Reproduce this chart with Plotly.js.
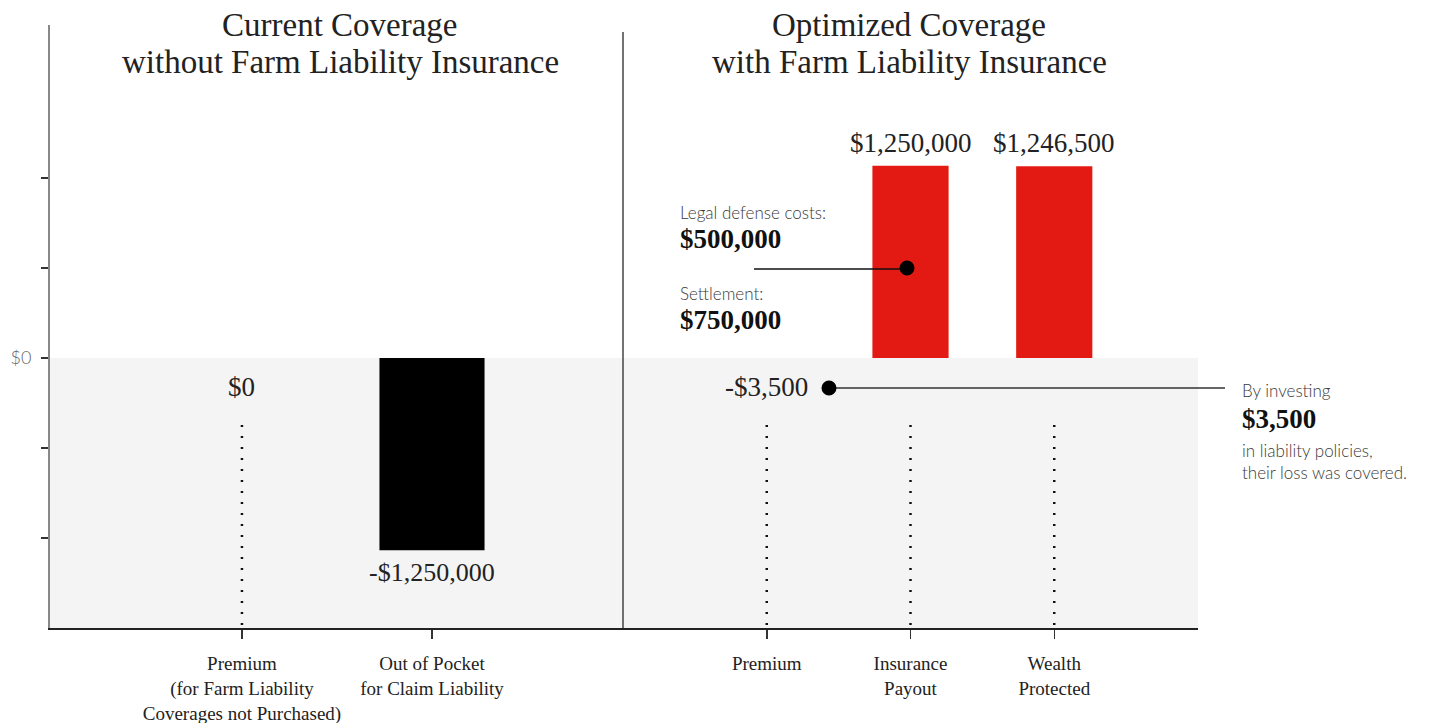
<!DOCTYPE html>
<html><head><meta charset="utf-8">
<script src="https://cdn.plot.ly/plotly-3.0.1.min.js"></script>
<style>html,body{margin:0;padding:0;background:#fff}#chart{width:1431px;height:723px}</style>
</head><body><div id="chart"></div>
<script>
// ---- data ----
const leftCategories = ['Premium<br>(for Farm Liability<br>Coverages not Purchased)', 'Out of Pocket<br>for Claim Liability'];
const leftValues = [0, -1250000];
const leftLabels = ['$0', '-$1,250,000'];
const rightCategories = ['Premium', 'Insurance<br>Payout', 'Wealth<br>Protected'];
const rightValues = [-3500, 1250000, 1246500];
const rightLabels = ['-$3,500', '$1,250,000', '$1,246,500'];
const panelTitles = [['Current Coverage', 'without Farm Liability Insurance'], ['Optimized Coverage', 'with Farm Liability Insurance']];
const payoutBreakdownLabels = ['Legal defense costs:', 'Settlement:'];
const payoutBreakdownValues = ['$500,000', '$750,000'];
const premiumNote = ['By investing', '$3,500', 'in liability policies,<br>their loss was covered.'];
const yTickLabels = ['', '', '$0', '', ''];

// ---- layout helpers ----
const W = 1431, H = 723;
const M = {l: 50, r: 233, t: 25, b: 95};
const PW = W - M.l - M.r, PH = H - M.t - M.b;
const px = x => (x - M.l) / PW;
const py = y => (H - M.b - y) / PH;
const T = 585000;
const SERIF = 'Liberation Serif, Times New Roman, serif';
const SANS = 'Lato, Open Sans, sans-serif';
const RED = '#e31a13';
const tiny = v => Math.abs(v) < 100000;
const colorFor = v => tiny(v) ? 'rgba(0,0,0,0)' : (v < 0 ? '#000000' : RED);

const traces = [
  {type: 'bar', x: leftCategories, y: leftValues, xaxis: 'x', yaxis: 'y', width: 0.553,
   marker: {color: leftValues.map(colorFor)}, hoverinfo: 'skip'},
  {type: 'bar', x: rightCategories, y: rightValues, xaxis: 'x2', yaxis: 'y', width: 0.53,
   marker: {color: rightValues.map(colorFor)}, hoverinfo: 'skip'}
];

const annotations = [];
const shapes = [];

// panel titles
[340, 909].forEach((cx, i) => panelTitles[i].forEach((line, j) => annotations.push({
  text: line, xref: 'paper', yref: 'paper', x: px(cx), y: py(j === 0 ? 25 : 62),
  xanchor: 'center', yanchor: 'middle', showarrow: false,
  font: {family: SERIF, size: 33, color: '#222'}
})));

// value labels and dotted guides
function addPanel(values, labels, xref) {
  values.forEach((v, i) => {
    const a = {text: labels[i], xref: xref, yref: 'y', x: i, showarrow: false,
      font: {family: SERIF, size: 27, color: '#222'}, xanchor: 'center'};
    if (tiny(v)) { a.y = 0; a.yanchor = 'middle'; a.yshift = -29; }
    else if (v < 0) { a.y = v; a.yanchor = 'top'; a.yshift = -6; a.font.size = 26; }
    else { a.y = v; a.yanchor = 'bottom'; a.yshift = 6; }
    annotations.push(a);
    if (v > -100000) {
      shapes.push({type: 'line', xref: xref, yref: 'paper', x0: i, x1: i, y0: py(625), y1: py(425),
        line: {color: '#111', width: 2.5, dash: '2px,9px'}});
    }
  });
}
addPanel(leftValues, leftLabels, 'x');
addPanel(rightValues, rightLabels, 'x2');

// shaded negative region
shapes.unshift({type: 'rect', xref: 'paper', yref: 'y', x0: 0, x1: 1, y0: -3 * T, y1: 0,
  fillcolor: '#f4f4f4', line: {width: 0}, layer: 'below'});
// divider
shapes.push({type: 'line', xref: 'paper', yref: 'paper', x0: px(623), x1: px(623), y0: 0, y1: py(32),
  line: {color: '#444', width: 1.5}});

// callouts
function dot(cx, cy, r) {
  shapes.push({type: 'circle', xref: 'paper', yref: 'paper', x0: px(cx - r), x1: px(cx + r),
    y0: py(cy + r), y1: py(cy - r), fillcolor: '#000', line: {width: 0}});
}
shapes.push({type: 'line', xref: 'paper', yref: 'paper', x0: px(754), x1: px(907), y0: py(269), y1: py(269),
  line: {color: '#111', width: 1.5}});
dot(907, 268, 7.5);
shapes.push({type: 'line', xref: 'paper', yref: 'paper', x0: px(829), x1: px(1225), y0: py(388), y1: py(388),
  line: {color: '#333', width: 1.5}});
dot(829, 388, 7.5);

function note(text, x, y, font) {
  annotations.push({text: text, xref: 'paper', yref: 'paper', x: px(x), y: py(y),
    xanchor: 'left', yanchor: 'middle', align: 'left', showarrow: false, font: font});
}
const sansFont = {family: SANS, size: 17, color: '#3a3a3a', weight: 300};
const boldFont = {family: SERIF, size: 27, color: '#111', weight: 700};
note(payoutBreakdownLabels[0], 678, 212, sansFont);
note(payoutBreakdownValues[0], 678, 239, boldFont);
note(payoutBreakdownLabels[1], 678, 293, sansFont);
note(payoutBreakdownValues[1], 678, 320, boldFont);
note(premiumNote[0], 1240, 390, sansFont);
note(premiumNote[1], 1240, 419, boldFont);
note(premiumNote[2], 1240, 461, sansFont);

const xBase = {type: 'category', showline: true, linecolor: '#222', linewidth: 1.5,
  ticks: 'outside', ticklen: 9, tickwidth: 1.5, tickcolor: '#333',
  tickfont: {family: SERIF, size: 19, color: '#222'}, ticklabelstandoff: 9,
  showgrid: false, zeroline: false, fixedrange: true, anchor: 'y'};

const layout = {
  width: W, height: H, margin: M, showlegend: false,
  paper_bgcolor: '#fff', plot_bgcolor: '#fff',
  xaxis: Object.assign({}, xBase, {domain: [0, px(623)], range: [-1.01, 2.005]}),
  xaxis2: Object.assign({}, xBase, {domain: [px(623), 1], range: [-1, 3]}),
  yaxis: {range: [-3 * T, 333 / 90 * T], tickvals: [-2 * T, -T, 0, T, 2 * T], ticktext: yTickLabels,
    ticks: 'outside', ticklen: 7, tickwidth: 1.5, tickcolor: '#333', showline: true, linecolor: '#888', linewidth: 2,
    tickfont: {family: SANS, size: 18, color: '#666', weight: 300}, ticklabelstandoff: 6,
    showgrid: false, zeroline: false, fixedrange: true},
  annotations: annotations, shapes: shapes
};

Plotly.newPlot('chart', traces, layout, {staticPlot: true, displayModeBar: false});
</script></body></html>
